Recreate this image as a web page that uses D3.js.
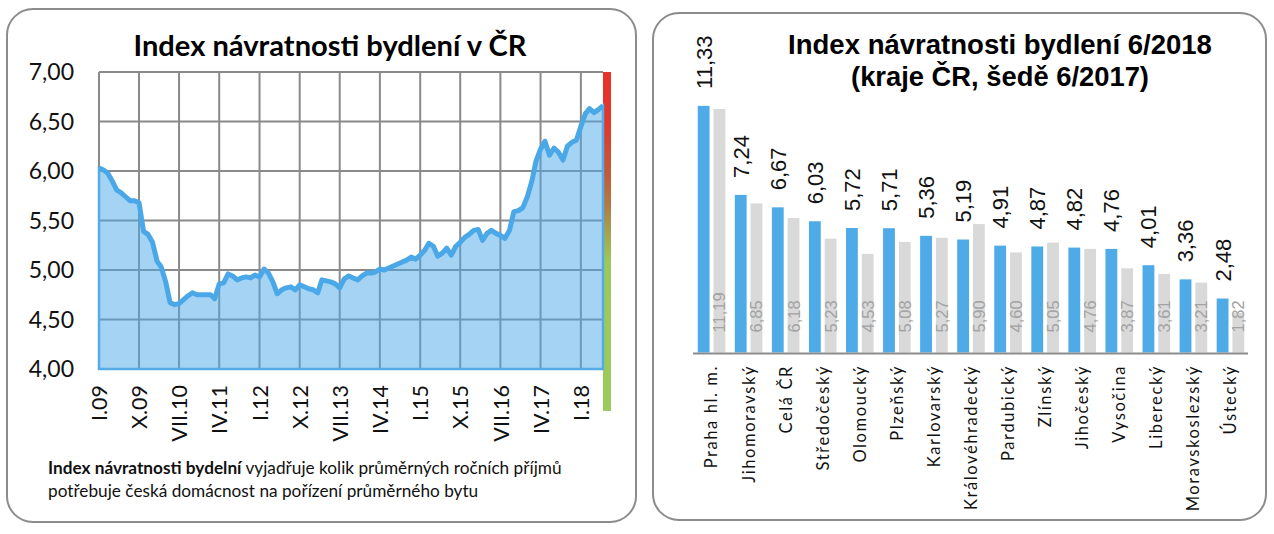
<!DOCTYPE html>
<html><head><meta charset="utf-8">
<script src="https://cdn.jsdelivr.net/npm/d3@7"></script>
<style>body{margin:0;background:#fff}svg{display:block}</style>
</head><body>
<svg id="c" width="1274" height="534"></svg>
<script>
// ---------- DATA ----------
const indexValues = [
 6.03,6.01,5.98,5.90,5.81,5.78,5.74,5.70,5.70,5.68,
 5.39,5.36,5.28,5.09,5.03,4.88,4.67,4.65,4.66,4.70,
 4.74,4.77,4.75,4.75,4.75,4.75,4.71,4.86,4.87,4.96,
 4.94,4.90,4.92,4.93,4.92,4.95,4.93,5.01,4.97,4.88,
 4.76,4.80,4.82,4.83,4.80,4.85,4.83,4.81,4.80,4.77,
 4.90,4.89,4.88,4.86,4.82,4.91,4.94,4.92,4.90,4.94,
 4.97,4.97,4.98,5.01,5.00,5.02,5.04,5.06,5.08,5.10,
 5.13,5.11,5.15,5.20,5.27,5.24,5.14,5.17,5.22,5.15,
 5.24,5.28,5.33,5.36,5.40,5.41,5.30,5.37,5.40,5.37,
 5.35,5.32,5.40,5.59,5.60,5.63,5.74,5.90,6.10,6.22,
 6.30,6.16,6.23,6.19,6.11,6.25,6.29,6.31,6.45,6.58,
 6.63,6.59,6.62,6.66
];
const startDate = new Date(2009, 0, 1);
const romanMonths = ["I","II","III","IV","V","VI","VII","VIII","IX","X","XI","XII"];
const tickEveryMonths = 9;
const yTicks = [4.00, 4.50, 5.00, 5.50, 6.00, 6.50, 7.00];
const leftTitle = "Index návratnosti bydlení v ČR";
const noteBold = "Index návratnosti bydelní";
const noteRest1 = " vyjadřuje kolik průměrných ročních příjmů";
const noteLine2 = "potřebuje česká domácnost na pořízení průměrného bytu";

const regions = ["Praha hl. m.","Jihomoravský","Celá ČR","Středočeský","Olomoucký","Plzeňský","Karlovarský","Královéhradecký","Pardubický","Zlínský","Jihočeský","Vysočina","Liberecký","Moravskoslezský","Ústecký"];
const values2018 = [11.33,7.24,6.67,6.03,5.72,5.71,5.36,5.19,4.91,4.87,4.82,4.76,4.01,3.36,2.48];
const values2017 = [11.19,6.85,6.18,5.23,4.53,5.08,5.27,5.90,4.60,5.05,4.76,3.87,3.61,3.21,1.82];
const rightTitle = ["Index návratnosti bydlení 6/2018", "(kraje ČR, šedě 6/2017)"];

// ---------- HELPERS ----------
const svg = d3.select("#c");
const comma = d3.formatLocale({decimal:",", thousands:" ", grouping:[3], currency:["",""]}).format(".2f");
function fitWidth(sel, target){
  const w = sel.node().getComputedTextLength();
  const fs = parseFloat(sel.attr("font-size"));
  sel.attr("font-size", (fs*target/w).toFixed(2));
}
const CAL = "Lato, 'Open Sans', 'DejaVu Sans', sans-serif";
const ARIAL = "'Liberation Sans', Arial, sans-serif";

// ---------- PANELS ----------
svg.append("rect").attr("x",7).attr("y",9).attr("width",629).attr("height",513)
  .attr("rx",26).attr("fill","#fff").attr("stroke","#8c8c8c").attr("stroke-width",2);
svg.append("rect").attr("x",653).attr("y",13).attr("width",613).attr("height",507)
  .attr("rx",26).attr("fill","#fff").attr("stroke","#8c8c8c").attr("stroke-width",2);

// ---------- LEFT CHART ----------
const dates = indexValues.map((v,i)=>d3.timeMonth.offset(startDate,i));
const data = indexValues.map((v,i)=>({date:dates[i], v}));
const x = d3.scaleTime().domain([dates[0], dates[dates.length-1]]).range([99, 603]);
const y = d3.scaleLinear().domain([4,7]).range([369, 72]);
const tickDates = d3.range(0, indexValues.length, tickEveryMonths).map(i=>dates[i]);
const fmtTick = d=> romanMonths[d.getMonth()] + "." + String(d.getFullYear()).slice(2);

const L = svg.append("g");
const defs = svg.append("defs");
const grad = defs.append("linearGradient").attr("id","gbar").attr("gradientUnits","userSpaceOnUse")
  .attr("x1",0).attr("x2",0).attr("y1",72).attr("y2",411);
[[0,"#e8312a"],[0.15,"#e2372a"],[0.30,"#c35a38"],[0.40,"#b07e44"],[0.48,"#a4a64e"],[0.56,"#9cc95a"],[1,"#9ccb5b"]]
  .forEach(([o,c])=>grad.append("stop").attr("offset",o).attr("stop-color",c));
L.append("rect").attr("x",603).attr("y",72).attr("width",8).attr("height",339).attr("fill","url(#gbar)");

// grid
L.append("g").selectAll("line").data(yTicks).join("line")
  .attr("x1",99).attr("x2",603).attr("y1",d=>y(d)).attr("y2",d=>y(d))
  .attr("stroke","#8a8a8a").attr("stroke-width",2);
L.append("g").selectAll("line").data(tickDates).join("line")
  .attr("x1",d=>x(d)).attr("x2",d=>x(d)).attr("y1",72).attr("y2",369)
  .attr("stroke","#8a8a8a").attr("stroke-width",2);

// area + line
const area = d3.area().x(d=>x(d.date)).y0(y(4)).y1(d=>y(d.v));
L.append("path").datum(data).attr("d",area)
  .attr("fill","rgba(74,168,232,0.5)").attr("stroke","#55abe6").attr("stroke-width",2.5);
const line = d3.line().x(d=>x(d.date)).y(d=>y(d.v));
L.append("path").datum(data).attr("d",line).attr("fill","none")
  .attr("stroke","#4aa8e8").attr("stroke-width",5).attr("stroke-linejoin","round");

// y axis labels
const yAxis = d3.axisLeft(y).tickValues(yTicks).tickFormat(comma).tickSize(0).tickPadding(0);
const ya = L.append("g").attr("transform","translate(74,0)").call(yAxis);
ya.select(".domain").remove();
ya.selectAll("text").attr("font-family",CAL).attr("font-size",23).attr("fill","#111").attr("dy","0.34em");

// x axis labels
const xAxis = d3.axisBottom(x).tickValues(tickDates).tickFormat(fmtTick).tickSize(0).tickPadding(0);
const xa = L.append("g").attr("transform","translate(0,385)").call(xAxis);
xa.select(".domain").remove();
xa.selectAll("text").attr("font-family",CAL).attr("font-size",21.5).attr("fill","#111")
  .attr("text-anchor","end").attr("transform","rotate(-90)").attr("x",0).attr("y",0).attr("dy","0.36em");

// title
const lt = L.append("text").attr("x",330).attr("y",56).attr("text-anchor","middle")
  .attr("font-family",CAL).attr("font-weight",700).attr("font-size",25).attr("fill","#000").text(leftTitle);
fitWidth(lt, 393);

// note
const n1 = L.append("text").attr("x",48).attr("y",474).attr("font-family",CAL).attr("font-size",15.5).attr("fill","#111");
n1.append("tspan").attr("font-weight",700).text(noteBold);
n1.append("tspan").text(noteRest1);
fitWidth(n1, 514);
const fsNote = n1.attr("font-size");
L.append("text").attr("x",48).attr("y",497).attr("font-family",CAL).attr("font-size",fsNote).attr("fill","#111").text(noteLine2);

// ---------- RIGHT CHART ----------
const R = svg.append("g");
const xb = d3.scaleBand().domain(regions).range([693, 1249]);
const xs = d3.scaleBand().domain(["2018","2017"]).range([0, xb.bandwidth()]).paddingInner(0.25).paddingOuter(0.3);
const yb = d3.scaleLinear().domain([0, 11.6]).range([352.5, 100]);

const groups = R.append("g").selectAll("g").data(regions).join("g")
  .attr("transform",d=>`translate(${xb(d)},0)`);
groups.append("rect").attr("x",xs("2018")).attr("width",xs.bandwidth())
  .attr("y",(d,i)=>yb(values2018[i])).attr("height",(d,i)=>yb(0)-yb(values2018[i])).attr("fill","#4eabe8");
groups.append("rect").attr("x",xs("2017")).attr("width",xs.bandwidth())
  .attr("y",(d,i)=>yb(values2017[i])).attr("height",(d,i)=>yb(0)-yb(values2017[i])).attr("fill","#d9d9d9");

R.append("line").attr("x1",693).attr("x2",1248).attr("y1",yb(0)+1).attr("y2",yb(0)+1)
  .attr("stroke","#8c8c8c").attr("stroke-width",2);

// value labels
groups.append("text").attr("font-family",ARIAL).attr("font-size",22).attr("fill","#111")
  .attr("text-anchor","start").attr("dy","0.36em")
  .attr("transform",(d,i)=>`translate(${xs("2018")+xs.bandwidth()/2},${yb(values2018[i])-17}) rotate(-90)`)
  .text((d,i)=>comma(values2018[i]));
groups.append("text").attr("font-family",ARIAL).attr("font-size",16.5).attr("fill","#a3a3a3")
  .attr("text-anchor","start").attr("dy","0.36em")
  .attr("transform",(d,i)=>`translate(${xs("2017")+xs.bandwidth()/2},${yb(0)-20}) rotate(-90)`)
  .text((d,i)=>comma(values2017[i]));

// category labels
const xbAxis = d3.axisBottom(xb).tickSize(0).tickPadding(0);
const xba = R.append("g").attr("transform","translate(0,365)").call(xbAxis);
xba.select(".domain").remove();
xba.selectAll("text").attr("font-family",CAL).attr("font-size",16.5).attr("letter-spacing","1.6px").attr("fill","#111")
  .attr("text-anchor","end").attr("transform","rotate(-90)").attr("x",0).attr("y",0).attr("dy","0.36em");

// title
rightTitle.forEach((t,i)=>{
  const tt = R.append("text").attr("x",1000).attr("y",i===0?54:86).attr("text-anchor","middle")
    .attr("font-family",ARIAL).attr("font-weight",700).attr("font-size",25).attr("fill","#000").text(t);
  fitWidth(tt, i===0?424:298);
});
</script>
</body></html>
